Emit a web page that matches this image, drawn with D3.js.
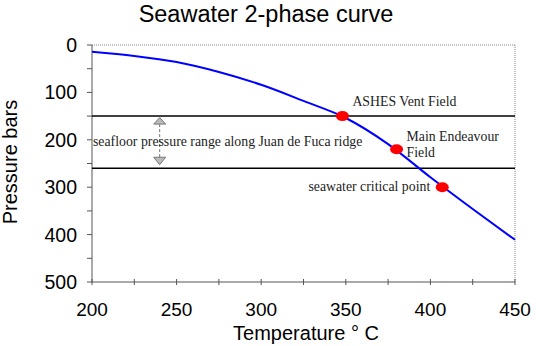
<!DOCTYPE html>
<html><head><meta charset="utf-8">
<script src="https://cdn.jsdelivr.net/npm/d3@7"></script>
<style>body{margin:0;background:#fff}svg{display:block}</style>
</head><body>
<svg id="c" width="536" height="346"></svg>
<script>
const curveT = [200,225,250,275,300,325,350,375,400,425,450];
const curveP = [14,23,36,57,84,118,154,209,279,346,411];
const sites = ["ASHES Vent Field","Main Endeavour Field","seawater critical point"];
const siteT = [348,380,407];
const siteP = [150,220,300];
const rangeP = [150,260];
const xTicks = [200,250,300,350,400,450];
const yTicks = [0,100,200,300,400,500];

const svg = d3.select("#c");
const L=92, R=515, T=45, B=282;
const x = d3.scaleLinear().domain([200,450]).range([L,R]);
const y = d3.scaleLinear().domain([0,500]).range([T,B]);

// frame top/right
svg.append("line").attr("x1",L).attr("x2",R).attr("y1",T).attr("y2",T).attr("stroke","#888").attr("stroke-dasharray","1,1");
svg.append("line").attr("x1",R).attr("x2",R).attr("y1",T).attr("y2",B).attr("stroke","#888").attr("stroke-dasharray","1,1");

// axes
const xa = svg.append("g").attr("transform",`translate(0,${B})`);
xa.append("line").attr("x1",L).attr("x2",R).attr("stroke","#555");
d3.range(200,451,25).forEach(v=>{
  xa.append("line").attr("x1",x(v)).attr("x2",x(v)).attr("y1",-3).attr("y2",3).attr("stroke","#555");
});
xTicks.forEach(v=>{
  xa.append("text").attr("x",x(v)).attr("y",34).attr("text-anchor","middle")
    .attr("font-family","Liberation Sans, Arial, sans-serif").attr("font-size",19).text(v);
});
const ya = svg.append("g").attr("transform",`translate(${L},0)`);
ya.append("line").attr("y1",T).attr("y2",B).attr("stroke","#555");
d3.range(0,501,50).forEach(v=>{
  ya.append("line").attr("y1",y(v)).attr("y2",y(v)).attr("x1",-5).attr("x2",0).attr("stroke","#555");
});
yTicks.forEach(v=>{
  ya.append("text").attr("x",-15).attr("y",y(v)).attr("dy","0.36em").attr("text-anchor","end")
    .attr("font-family","Liberation Sans, Arial, sans-serif").attr("font-size",19.5).text(v);
});

// titles
svg.append("text").attr("x",266).attr("y",22).attr("text-anchor","middle")
  .attr("font-family","Liberation Sans, Arial, sans-serif").attr("font-size",23.5).text("Seawater 2-phase curve");
svg.append("text").attr("x",306).attr("y",340).attr("text-anchor","middle")
  .attr("font-family","Liberation Sans, Arial, sans-serif").attr("font-size",20).text("Temperature ° C");
svg.append("text").attr("transform",`translate(17,162) rotate(-90)`).attr("text-anchor","middle")
  .attr("font-family","Liberation Sans, Arial, sans-serif").attr("font-size",20).text("Pressure bars");

// range lines
rangeP.forEach(p=>{
  svg.append("line").attr("x1",L).attr("x2",R).attr("y1",y(p)).attr("y2",y(p)).attr("stroke","#000").attr("stroke-width",1.5);
});

// range arrow
const ax = x(240);
const y1 = y(rangeP[0]), y2 = y(rangeP[1]);
svg.append("line").attr("x1",ax).attr("x2",ax).attr("y1",y1+8).attr("y2",y2-10).attr("stroke","#777").attr("stroke-dasharray","3,2");
svg.append("path").attr("d",`M${ax},${y1+1.5}L${ax-6},${y1+8}L${ax+6},${y1+8}Z`).attr("fill","#bbb").attr("stroke","#777");
svg.append("path").attr("d",`M${ax},${y2-3.5}L${ax-6},${y2-11}L${ax+6},${y2-11}Z`).attr("fill","#bbb").attr("stroke","#777");
const serif = "Liberation Serif, Times New Roman, serif";
const fs = 13.8;
svg.append("text").attr("x",L+1).attr("y",(y1+y2)/2+4).attr("font-family",serif).attr("font-size",fs).attr("fill","#222")
  .text("seafloor pressure range along Juan de Fuca ridge");

// curve
const line = d3.line().x(d=>x(d[0])).y(d=>y(d[1])).curve(d3.curveMonotoneX);
svg.append("path").datum(curveT.map((t,i)=>[t,curveP[i]])).attr("d",line)
  .attr("fill","none").attr("stroke","#0000ff").attr("stroke-width",2);

// sites
siteT.forEach((t,i)=>{
  svg.append("ellipse").attr("cx",x(t)).attr("cy",y(siteP[i])).attr("rx",6.5).attr("ry",5).attr("fill","#ff0000");
});
const lab = (tx,xx,yy,anchor)=>svg.append("text").attr("x",xx).attr("y",yy).attr("text-anchor",anchor||"start")
  .attr("font-family",serif).attr("font-size",fs).attr("fill","#222").text(tx);
lab(sites[0], x(siteT[0])+10, y(siteP[0])-10);
lab("Main Endeavour", x(siteT[1])+10, y(siteP[1])-8);
lab("Field", x(siteT[1])+10, y(siteP[1])+8);
lab(sites[2], x(siteT[2])-12, y(siteP[2])+4, "end");
</script>
</body></html>
